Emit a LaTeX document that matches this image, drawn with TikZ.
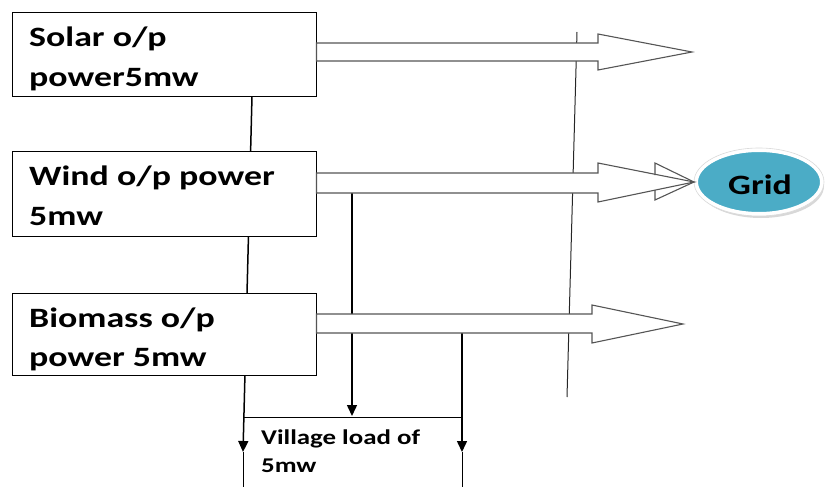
\documentclass[tikz,border=0pt]{standalone}
\usepackage{fontspec}
\setmainfont{Carlito}[FakeStretch=1.28]
\usetikzlibrary{arrows.meta,shapes.geometric,shadows}
\definecolor{gridteal}{RGB}{75,172,198}
\definecolor{arrowgray}{RGB}{85,85,85}
\begin{document}
\begin{tikzpicture}[x=1pt,y=-1pt,
  srcbox/.style={draw=black,line width=0.9pt,fill=white,minimum width=304pt,inner sep=0pt},
  boxtext/.style={anchor=base west,inner sep=0pt,font=\fontsize{28}{34}\selectfont\bfseries},
  loadtext/.style={anchor=base west,inner sep=0pt,font=\fontsize{21}{26}\selectfont\bfseries},
  fatarrow/.style={draw=arrowgray,line width=1.1pt,fill=white,line join=miter},
  feed/.style={draw=black,line width=1.5pt,-{Triangle[width=10pt,length=11pt]}},
  edgeline/.style={draw=black,line width=1pt},
  rail/.style={draw=black!85,line width=1pt},
]
\useasboundingbox (0,0) rectangle (825,487);

% thin vertical bus line
\coordinate (railtop) at (577,32);
\coordinate (railbot) at (567,397);
\draw[rail] (railtop) -- (railbot);

% feeder lines to the village load
\coordinate (lefttop) at (252,96);
\coordinate (lefttip) at (243,452);
\coordinate (leftend) at (243,487);
\coordinate (midtop) at (352,193);
\coordinate (midtip) at (352,416);
\coordinate (righttop) at (462,333);
\coordinate (righttip) at (462,452);
\coordinate (rightend) at (462,487);
\coordinate (loadtl) at (243,417);
\coordinate (loadtr) at (462,417);

\draw[feed] (lefttop) -- (lefttip);
\draw[edgeline] (lefttip) -- (leftend);
\draw[edgeline] (loadtl) -- (loadtr);
\draw[feed] (midtop) -- (midtip);
\draw[feed] (righttop) -- (righttip);
\draw[edgeline] (righttip) -- (rightend);

% source boxes
\node[srcbox,minimum height=84pt] (solar) at (164,54) {};
\node[srcbox,minimum height=85pt] (wind) at (164,193.5) {};
\node[srcbox,minimum height=82pt] (biomass) at (164,334) {};

\node[boxtext] (solar1) at (29,47) {Solar o/p};
\node[boxtext] (solar2) at (29,86) {power5mw};
\node[boxtext] (wind1) at (29,185) {Wind o/p power};
\node[boxtext] (wind2) at (29,225) {5mw};
\node[boxtext] (bio1) at (29,327) {Biomass o/p};
\node[boxtext] (bio2) at (29,366) {power 5mw};

% grid
\node[ellipse,fill=gridteal,draw=white,line width=4pt,minimum width=126pt,minimum height=64pt,
      drop shadow={shadow xshift=2pt,shadow yshift=-4pt,fill=black!30}] (grid) at (759,182) {};
\draw[black!15,line width=0.6pt] (grid.center) ellipse (65pt and 34pt);
\node[anchor=base,inner sep=0pt,font=\fontsize{28}{34}\selectfont\bfseries] (gridlabel) at (760,194) {Grid};

% block arrows
\draw[fatarrow] (solar.east |- 0,43) -- (598,43) -- (598,34) -- (692,52) -- (598,70) -- (598,61) -- (solar.east |- 0,61) -- cycle;
\draw[fatarrow] (wind.east |- 0,173) -- (598,173) -- (598,163) -- (grid.west) -- (598,202) -- (598,193) -- (wind.east |- 0,193) -- cycle;
\draw[draw=arrowgray,line width=1.1pt,line join=miter] (655,175) -- (655,163) -- (grid.west) -- (655,200) -- (655,190);
\draw[fatarrow] (biomass.east |- 0,314) -- (592,314) -- (592,305) -- (683,324) -- (592,343) -- (592,333) -- (biomass.east |- 0,333) -- cycle;

% village load text
\node[loadtext] (load1) at (261,444) {Village load of};
\node[loadtext] (load2) at (261,472) {5mw};
\end{tikzpicture}
\end{document}
